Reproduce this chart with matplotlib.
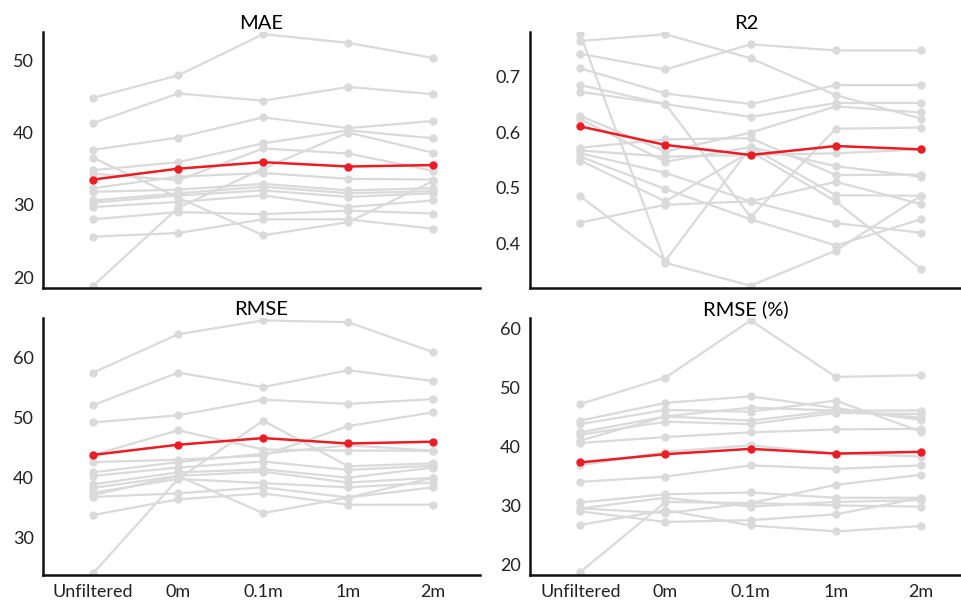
import matplotlib.pyplot as plt
import numpy as np

plt.rcParams['font.family'] = ['Lato', 'DejaVu Sans']

categories = ["Unfiltered", "0m", "0.1m", "1m", "2m"]

# individual sites (grey) per metric, mean in red
mae_sites = [
    [44.8, 47.9, 53.6, 52.4, 50.3],
    [41.3, 45.4, 44.4, 46.3, 45.3],
    [37.6, 39.3, 42.1, 40.6, 41.6],
    [36.5, 31.0, 25.8, 27.6, 33.3],
    [34.8, 35.9, 38.5, 40.3, 39.2],
    [18.8, 29.6, 35.0, 40.0, 37.2],
    [34.3, 33.4, 37.8, 37.1, 34.7],
    [32.3, 33.9, 34.4, 33.6, 33.5],
    [31.8, 32.1, 32.9, 32.0, 32.3],
    [30.6, 31.6, 32.5, 31.6, 31.9],
    [30.3, 31.3, 32.0, 31.1, 31.6],
    [29.7, 30.4, 31.3, 29.7, 30.6],
    [28.0, 29.0, 28.7, 29.2, 28.8],
    [25.6, 26.1, 28.0, 28.0, 26.7],
]
mae_mean = [33.5, 35.0, 35.9, 35.3, 35.5]

r2_sites = [
    [0.763, 0.775, 0.732, 0.666, 0.624],
    [0.740, 0.712, 0.757, 0.746, 0.746],
    [0.775, 0.366, 0.325, 0.388, 0.486],
    [0.714, 0.669, 0.650, 0.684, 0.684],
    [0.684, 0.650, 0.627, 0.652, 0.652],
    [0.672, 0.650, 0.448, 0.606, 0.608],
    [0.629, 0.565, 0.599, 0.646, 0.635],
    [0.623, 0.547, 0.573, 0.539, 0.520],
    [0.572, 0.587, 0.589, 0.523, 0.524],
    [0.567, 0.556, 0.559, 0.562, 0.569],
    [0.562, 0.527, 0.476, 0.511, 0.471],
    [0.556, 0.498, 0.444, 0.397, 0.444],
    [0.549, 0.476, 0.565, 0.476, 0.355],
    [0.485, 0.370, 0.573, 0.487, 0.486],
    [0.438, 0.470, 0.476, 0.437, 0.420],
]
r2_mean = [0.610, 0.577, 0.559, 0.575, 0.569]

rmse_sites = [
    [57.4, 63.8, 66.1, 65.8, 60.8],
    [52.0, 57.4, 55.0, 57.8, 56.0],
    [49.1, 50.3, 52.9, 52.2, 53.0],
    [43.7, 47.8, 44.6, 44.4, 44.4],
    [24.0, 39.7, 49.4, 41.8, 42.3],
    [42.5, 42.9, 43.6, 48.5, 50.8],
    [40.8, 42.5, 43.9, 45.3, 44.4],
    [40.2, 41.6, 42.6, 41.2, 41.9],
    [38.8, 40.8, 41.3, 39.9, 41.6],
    [38.2, 40.2, 40.9, 39.1, 39.9],
    [37.4, 39.7, 39.0, 38.3, 39.1],
    [36.7, 37.3, 38.3, 36.6, 38.3],
    [33.7, 36.3, 37.3, 35.4, 35.4],
    [37.0, 40.2, 34.0, 36.6, 39.9],
]
rmse_mean = [43.7, 45.4, 46.5, 45.6, 45.9]

rmsep_sites = [
    [47.2, 51.7, 61.4, 51.8, 52.1],
    [44.4, 47.4, 48.5, 46.5, 44.5],
    [43.8, 46.2, 45.9, 47.8, 42.5],
    [42.4, 45.1, 46.6, 46.1, 46.1],
    [42.0, 44.2, 43.8, 45.7, 45.5],
    [41.0, 45.1, 44.4, 46.1, 44.9],
    [40.6, 41.6, 42.4, 42.9, 43.0],
    [36.8, 39.1, 40.2, 38.8, 38.3],
    [34.0, 34.9, 36.8, 36.2, 36.8],
    [30.5, 31.9, 32.2, 31.3, 31.3],
    [29.5, 31.3, 29.8, 30.6, 30.9],
    [29.5, 28.7, 30.4, 30.0, 29.8],
    [29.0, 27.2, 27.5, 28.5, 31.3],
    [26.7, 29.2, 26.6, 25.6, 26.5],
    [18.7, 30.6, 30.4, 33.5, 35.2],
]
rmsep_mean = [37.3, 38.7, 39.6, 38.8, 39.1]

panels = [
    ("MAE", mae_sites, mae_mean, (18.5, 53.9), [20, 30, 40, 50]),
    ("R2", r2_sites, r2_mean, (0.321, 0.779), [0.4, 0.5, 0.6, 0.7]),
    ("RMSE", rmse_sites, rmse_mean, (23.7, 66.5), [30, 40, 50, 60]),
    ("RMSE (%)", rmsep_sites, rmsep_mean, (18.2, 61.8), [20, 30, 40, 50, 60]),
]

W, H = 962, 600
fig = plt.figure(figsize=(W / 100, H / 100), dpi=100)
# axes boxes in pixels: left, top, right, bottom
boxes = [(43, 32, 480, 288), (530, 32, 962, 288),
         (43, 318, 480, 575), (530, 318, 962, 575)]

x = np.arange(len(categories))
for i, (title, sites, mean, ylim, yticks) in enumerate(panels):
    l, t, r, b = boxes[i]
    ax = fig.add_axes([l / W, 1 - b / H, (r - l) / W, (b - t) / H])
    for s in sites:
        ax.plot(x, s, '-o', color='#dadada', lw=1.6, ms=5, zorder=1)
    ax.plot(x, mean, '-o', color='#ec1c24', lw=1.8, ms=5, zorder=3)
    ax.set_xlim(-0.59, 4.55 if i % 2 == 0 else 4.48)
    ax.set_ylim(*ylim)
    ax.set_yticks(yticks)
    ax.set_xticks(x)
    if i >= 2:
        ax.set_xticklabels(categories)
    else:
        ax.set_xticklabels([])
    ax.tick_params(length=0, labelsize=13, pad=6.5, colors='#222222')
    ax.set_title(title, fontsize=14.5, pad=1.5)
    for side in ['top', 'right']:
        ax.spines[side].set_visible(False)
    for side in ['left', 'bottom']:
        ax.spines[side].set_linewidth(1.8)
        ax.spines[side].set_color('#111111')

fig.savefig("out.png", dpi=100)
